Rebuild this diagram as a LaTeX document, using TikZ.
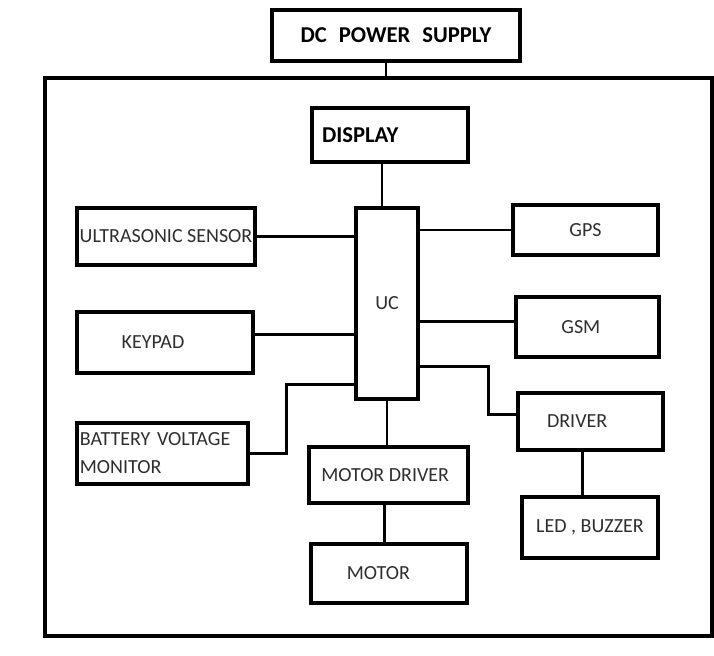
\documentclass[tikz,border=0pt]{standalone}
\usepackage{fontspec}
\setmainfont{Carlito}
\usepackage{tikz}
\tikzset{
  blk/.style  = {draw,line width=2.6pt,inner sep=2pt,font=\fontsize{15}{18}\selectfont,text=black!82},
  head/.style = {blk,font=\fontsize{17}{20}\selectfont\bfseries,text=black},
  wire/.style = {line width=2.2pt}
}

\begin{document}
\begin{tikzpicture}[x=0.75pt,y=-0.75pt]
  \useasboundingbox (0,0) rectangle (714,656);
  \node[head,minimum width=186pt,minimum height=38.25pt] (dc) at (396,35.5) {DC\hspace{9pt}POWER\hspace{9pt}SUPPLY};
  \node[draw,line width=2.6pt,minimum width=500.25pt,minimum height=418.5pt] (board) at (378.5,357) {};
  \node[head,minimum width=117pt,minimum height=40.5pt,text width=102pt,align=left] (disp) at (390,135) {DISPLAY\\[-2pt]};
  \node[blk,minimum width=46.5pt,minimum height=143.25pt] (uc) at (387,303.5) {UC};
  \node[blk,minimum width=133.5pt,minimum height=42.75pt,inner sep=0pt] (us) at (166,236.5) {ULTRASONIC SENSOR};
  \node[blk,minimum width=132pt,minimum height=45.75pt] (kp) at (165,342.5) {KEYPAD\hspace*{18pt}};
  \node[blk,minimum width=128.25pt,minimum height=45.75pt,text width=124pt,align=left,
        font=\fontsize{15}{21}\selectfont,inner sep=1pt] (bat) at (162.5,453.5) {BATTERY VOLTAGE\\MONITOR};
  \node[blk,minimum width=108.75pt,minimum height=37.5pt] (gps) at (585.5,230) {GPS};
  \node[blk,minimum width=107.25pt,minimum height=45pt] (gsm) at (587.5,327) {GSM\hspace*{10pt}};
  \node[blk,minimum width=108.75pt,minimum height=42.75pt] (drv) at (590.5,421.5) {DRIVER\hspace*{20pt}};
  \node[blk,minimum width=102pt,minimum height=45.75pt] (led) at (590,527.5) {LED , BUZZER};
  \node[blk,minimum width=119.25pt,minimum height=42pt] (md) at (388.5,475) {MOTOR DRIVER\hspace*{5pt}};
  \node[blk,minimum width=117pt,minimum height=44.25pt] (mot) at (389,573.5) {MOTOR\hspace*{16pt}};
  \draw[wire] ([xshift=-7.5pt]dc.south) -- ([xshift=-7.5pt]dc.south |- board.north);
  \draw[wire] ([xshift=-6pt]disp.south) -- ([xshift=-6pt]disp.south |- uc.north);
  \draw[wire] (us.east) -- (us.east -| uc.west);
  \draw[wire] ([yshift=6pt]kp.east) -- ([yshift=6pt]kp.east -| uc.west);
  \draw[wire] (bat.east) -- ++(37,0) |- ([yshift=12pt]uc.south west);
  \draw[wire] (gps.west) -- (gps.west -| uc.east);
  \draw[wire] ([yshift=4pt]gsm.west) -- ([yshift=4pt]gsm.west -| uc.east);
  \draw[wire] ([yshift=5pt]drv.west) -- ++(-28,0) |- ([yshift=25.5pt]uc.south east);
  \draw[wire] ([xshift=-6pt]drv.south) -- ([xshift=-6pt]drv.south |- led.north);
  \draw[wire] (uc.south) -- (uc.south |- md.north);
  \draw[wire] ([xshift=-3pt]md.south) -- ([xshift=-3pt]md.south |- mot.north);
\end{tikzpicture}
\end{document}
